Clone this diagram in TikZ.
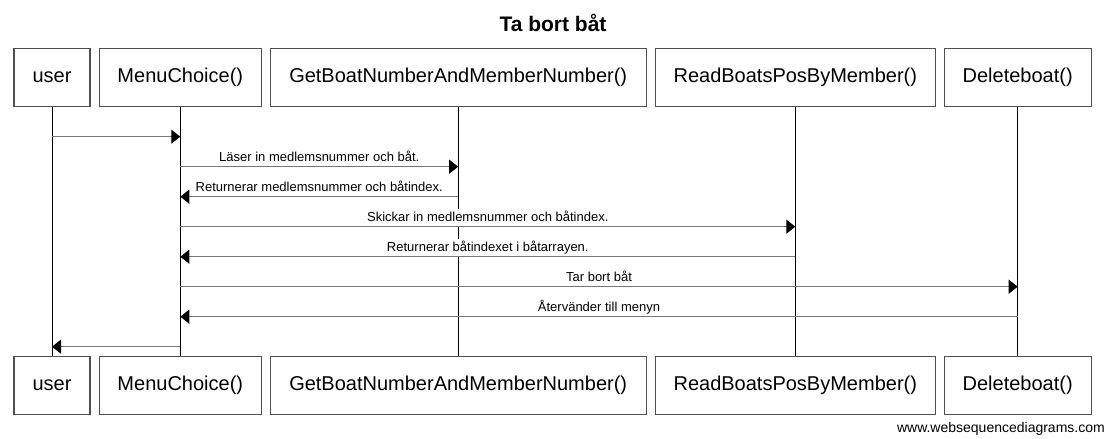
\documentclass[tikz,border=0pt]{standalone}
\usepackage{fontspec}
\setmainfont{Liberation Sans}
\usetikzlibrary{arrows.meta,calc}
\definecolor{boxline}{HTML}{505050}
\definecolor{msgline}{HTML}{777777}
\begin{document}
\begin{tikzpicture}[x=1bp,y=-1bp,
  actor/.style={draw=boxline,line width=1.1bp,minimum height=58bp,inner sep=0pt,
    font=\fontsize{20bp}{24bp}\selectfont},
  life/.style={line width=1bp,black},
  msg/.style={msgline,line width=1.2bp,-{Triangle[length=9bp,width=14bp,color=black,fill=black]}},
  lbl/.style={fill=white,anchor=south,inner xsep=1bp,inner ysep=2bp,
    font=\fontsize{13bp}{15bp}\selectfont,text height=10bp,text depth=3bp}]
\fill[white] (0,0) rectangle (1106,439);
\useasboundingbox (0,0) rectangle (1106,439);

% title
\node[anchor=base,inner sep=0pt] (title) at (553,31.7) {\fontsize{21bp}{24bp}\selectfont\bfseries Ta bort båt};

% actors top
\node[actor,minimum width=76bp]    (u1) at (52,77.5)    {user};
\node[actor,minimum width=162bp]   (m1) at (180.3,77.5) {MenuChoice()};
\node[actor,minimum width=375.7bp] (g1) at (458.2,77.5) {GetBoatNumberAndMemberNumber()};
\node[actor,minimum width=280bp]   (r1) at (795.3,77.5) {ReadBoatsPosByMember()};
\node[actor,minimum width=146.7bp] (d1) at (1017.7,77.5) {Deleteboat()};
% actors bottom
\node[actor,minimum width=76bp]    (u2) at (52,385.5)    {user};
\node[actor,minimum width=162bp]   (m2) at (180.3,385.5) {MenuChoice()};
\node[actor,minimum width=375.7bp] (g2) at (458.2,385.5) {GetBoatNumberAndMemberNumber()};
\node[actor,minimum width=280bp]   (r2) at (795.3,385.5) {ReadBoatsPosByMember()};
\node[actor,minimum width=146.7bp] (d2) at (1017.7,385.5) {Deleteboat()};

% lifelines
\draw[life] (u1.south) -- (u2.north);
\draw[life] (m1.south) -- (m2.north);
\draw[life] (g1.south) -- (g2.north);
\draw[life] (r1.south) -- (r2.north);
\draw[life] (d1.south) -- (d2.north);

% message rows
\coordinate (y1) at (0,136.7);
\coordinate (y2) at (0,166.7);
\coordinate (y3) at (0,196.7);
\coordinate (y4) at (0,226.7);
\coordinate (y5) at (0,256.7);
\coordinate (y6) at (0,286.7);
\coordinate (y7) at (0,316.7);
\coordinate (y8) at (0,346.7);

% labels
\node[lbl] (l2) at ($(m1|-y2)!0.5!(g1|-y2)$) {Läser in medlemsnummer och båt.};
\node[lbl] (l3) at ($(m1|-y3)!0.5!(g1|-y3)$) {Returnerar medlemsnummer och båtindex.};
\node[lbl] (l4) at ($(m1|-y4)!0.5!(r1|-y4)$) {Skickar in medlemsnummer och båtindex.};
\node[lbl] (l5) at ($(m1|-y5)!0.5!(r1|-y5)$) {Returnerar båtindexet i båtarrayen.};
\node[lbl] (l6) at ($(m1|-y6)!0.5!(d1|-y6)$) {Tar bort båt};
\node[lbl] (l7) at ($(m1|-y7)!0.5!(d1|-y7)$) {Återvänder till menyn};

% messages
\draw[msg] (u1|-y1) -- (m1|-y1);
\draw[msg] (m1|-y2) -- (g1|-y2);
\draw[msg] (g1|-y3) -- (m1|-y3);
\draw[msg] (m1|-y4) -- (r1|-y4);
\draw[msg] (r1|-y5) -- (m1|-y5);
\draw[msg] (m1|-y6) -- (d1|-y6);
\draw[msg] (d1|-y7) -- (m1|-y7);
\draw[msg] (m1|-y8) -- (u1|-y8);

% footer
\node[anchor=base east,inner sep=0pt,font=\fontsize{14bp}{16bp}\selectfont] (foot) at (1105,433) {www.websequencediagrams.com};
\end{tikzpicture}
\end{document}
